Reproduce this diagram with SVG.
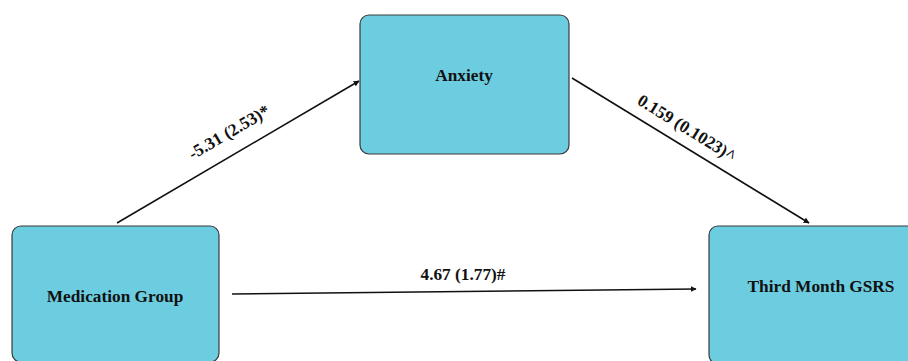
<svg xmlns="http://www.w3.org/2000/svg" width="908" height="361" viewBox="0 0 908 361">
  <style>
    .node rect { fill: #6ccde0; stroke: #3a3a3a; stroke-width: 1.2; }
    .node text { font-family: "Liberation Serif", "Times New Roman", serif; font-weight: bold; font-size: 17.3px; fill: #111; text-anchor: middle; }
    .edge { stroke: #111; stroke-width: 1.6; fill: none; marker-end: url(#arrow); }
    .lbl { font-family: "Liberation Serif", "Times New Roman", serif; font-weight: bold; font-size: 17.3px; fill: #111; text-anchor: middle; }
  </style>
  <defs>
    <marker id="arrow" viewBox="0 0 10 10" refX="9" refY="5" markerWidth="6" markerHeight="6" markerUnits="userSpaceOnUse" orient="auto">
      <path d="M0,0 L10,5 L0,10 Z" fill="#111"/>
    </marker>
  </defs>
  <rect width="908" height="361" fill="#ffffff"/>

  <g id="connectors">
    <line class="edge" x1="117" y1="223" x2="359" y2="81"/>
    <line class="edge" x1="572" y1="78" x2="809" y2="223"/>
    <line class="edge" x1="232" y1="294" x2="696" y2="289"/>
    <text class="lbl" transform="translate(232,137) rotate(-30.3)">-5.31 (2.53)*</text>
    <text class="lbl" transform="translate(684,133) rotate(31.6)">0.159 (0.1023)^</text>
    <text class="lbl" x="463" y="280">4.67 (1.77)#</text>
  </g>

  <g id="anxiety" class="node">
    <rect x="360" y="15" width="209" height="139" rx="9"/>
    <text x="464" y="81">Anxiety</text>
  </g>

  <g id="medication-group" class="node">
    <rect x="12" y="226" width="207" height="136" rx="9"/>
    <text x="115" y="302">Medication Group</text>
  </g>

  <g id="third-month-gsrs" class="node">
    <rect x="709" y="226" width="215" height="138" rx="9"/>
    <text x="821" y="292">Third Month GSRS</text>
  </g>
</svg>
